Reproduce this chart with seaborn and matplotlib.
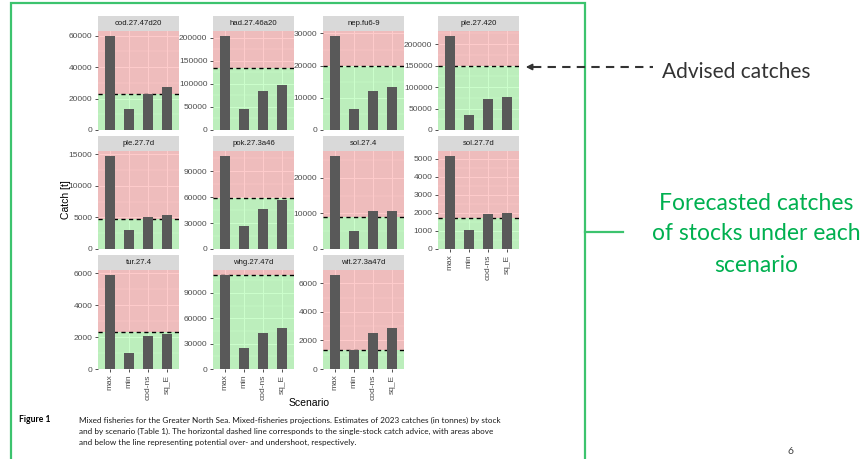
import numpy as np
import pandas as pd
import seaborn as sns
import matplotlib.pyplot as plt
from matplotlib.lines import Line2D
from matplotlib.patches import Rectangle
from matplotlib.ticker import MultipleLocator

# data
stocks = ['cod.27.47d20', 'had.27.46a20', 'nep.fu6-9', 'ple.27.420',
          'ple.27.7d', 'pok.27.3a46', 'sol.27.4', 'sol.27.7d',
          'tur.27.4', 'whg.27.47d', 'wit.27.3a47d']
scenarios = ['max', 'min', 'cod-ns', 'sq_E']

catch_max = [60000, 204500, 29300, 219500, 14800, 108000, 26200, 5180, 5900, 111400, 6600]
catch_min = [13100, 46500, 6400, 35000, 2950, 26700, 5000, 1060, 1020, 24300, 1330]
catch_codns = [22900, 84000, 12200, 72000, 5020, 46500, 10600, 1940, 2060, 42400, 2510]
catch_sqE = [27100, 98500, 13300, 76000, 5330, 56400, 10750, 2000, 2220, 49000, 2840]
advice = [22800, 135000, 19800, 150000, 4700, 58700, 9100, 1740, 2300, 110600, 1330]
tick_step = [20000, 50000, 10000, 50000, 5000, 30000, 10000, 1000, 2000, 30000, 2000]

df = pd.DataFrame({
    'stock': np.repeat(stocks, 4),
    'scenario': scenarios * len(stocks),
    'catch': np.ravel(np.column_stack([catch_max, catch_min, catch_codns, catch_sqE])),
})

plt.rcParams['font.family'] = ['Liberation Sans', 'DejaVu Sans']

W, H = 864, 459
fig = plt.figure(figsize=(W / 100, H / 100), dpi=100)


def frect(x0, y0, w, h):
    return [x0 / W, 1 - (y0 + h) / H, w / W, h / H]


col_x = [98, 213, 323, 438]
row_top = [31, 151, 270]
row_h = [99, 98, 99]
pw, sh = 81, 15
bottom_panels = [7, 8, 9, 10]

for i, stock in enumerate(stocks):
    r, c = divmod(i, 4)
    ax = fig.add_axes(frect(col_x[c], row_top[r], pw, row_h[r]))
    sub = df[df['stock'] == stock]
    top = max(sub['catch'].max(), advice[i]) * 1.05

    ax.set_facecolor('#EBEBEB')
    ax.set_axisbelow(True)
    ax.axhspan(0, advice[i], color='#00FF00', alpha=0.2, lw=0, zorder=1)
    ax.axhspan(advice[i], top, color='#FF0000', alpha=0.2, lw=0, zorder=1)
    ax.axhline(advice[i], color='black', lw=1.0, ls=(0, (3, 2.5)), zorder=2)

    sns.barplot(data=sub, x='scenario', y='catch', order=scenarios, ax=ax,
                color='#595959', saturation=1, width=0.52, errorbar=None, zorder=3)
    for p in ax.patches:
        if p.get_height() and p.get_width() < 1:
            p.set_zorder(3)
            p.set_edgecolor('none')

    ax.set_xlim(-0.6, 3.6)
    ax.set_ylim(0, top)
    ax.yaxis.set_major_locator(MultipleLocator(tick_step[i]))
    ax.yaxis.set_minor_locator(MultipleLocator(tick_step[i] / 2))
    ax.grid(which='major', color='white', lw=0.7)
    ax.grid(which='minor', axis='y', color='white', lw=0.35)
    for s in ax.spines.values():
        s.set_visible(False)
    ax.set_xlabel('')
    ax.set_ylabel('')
    ax.tick_params(axis='y', which='major', length=2.5, width=0.6, color='#333333',
                   labelsize=6, labelcolor='#4D4D4D', pad=1.5)
    ax.tick_params(axis='y', which='minor', length=0)
    if i in bottom_panels:
        ax.set_xticks(range(4))
        ax.set_xticklabels(scenarios, rotation=90)
        ax.tick_params(axis='x', length=2.5, width=0.6, color='#333333',
                       labelsize=6, labelcolor='#4D4D4D', pad=1.5)
    else:
        ax.tick_params(axis='x', length=0, labelbottom=False)

    sax = fig.add_axes(frect(col_x[c], row_top[r] - sh, pw, sh))
    sax.set_facecolor('#D9D9D9')
    sax.set_xticks([])
    sax.set_yticks([])
    for s in sax.spines.values():
        s.set_visible(False)
    sax.text(0.5, 0.5, stock, ha='center', va='center', fontsize=5.6, color='#1A1A1A',
             transform=sax.transAxes)


def ftext(x, y, s, **kw):
    fig.text(x / W, 1 - y / H, s, **kw)


ftext(66, 200, 'Catch [t]', rotation=90, ha='center', va='center', fontsize=7.5)
ftext(309, 403, 'Scenario', ha='center', va='center', fontsize=7.5)

# caption
cap_font = ['Lato', 'DejaVu Sans']
ftext(19, 420, 'Figure 1', fontsize=6.2, fontweight='bold', va='center', family=cap_font)
caption = ['Mixed fisheries for the Greater North Sea. Mixed-fisheries projections. Estimates of 2023 catches (in tonnes) by stock',
           'and by scenario (Table 1). The horizontal dashed line corresponds to the single-stock catch advice, with areas above',
           'and below the line representing potential over- and undershoot, respectively.']
for k, line in enumerate(caption):
    ftext(79, 420 + 11 * k, line, fontsize=5.85, va='center', family=cap_font, color='#1A1A1A')

# green frame
green = '#00B050'
fig.add_artist(Rectangle((11 / W, -0.1), (585 - 11) / W, 1 - 3 / H + 0.1,
                         transform=fig.transFigure, fill=False, edgecolor='#3CC36E',
                         lw=1.6, clip_on=False))
fig.add_artist(Line2D([585 / W, 623 / W], [1 - 232 / H] * 2, transform=fig.transFigure,
                      color='#3CC36E', lw=1.6))

# arrow to advice line
fig.add_artist(Line2D([533 / W, 653 / W], [1 - 67 / H] * 2, transform=fig.transFigure,
                      color='#333333', lw=1.5, ls=(0, (4, 3))))
fig.add_artist(plt.Annotation('', xy=(523 / W, 1 - 67 / H), xytext=(536 / W, 1 - 67 / H),
                              xycoords='figure fraction', textcoords='figure fraction',
                              arrowprops=dict(arrowstyle='-|>', color='#333333', lw=1.2,
                                              mutation_scale=9)))

side_font = ['Lato', 'DejaVu Sans']
ftext(662, 72, 'Advised catches', fontsize=15, va='center', ha='left', color='#333333',
      family=side_font)
for k, line in enumerate(['Forecasted catches', 'of stocks under each', 'scenario']):
    ftext(756, 203 + 31 * k, line, fontsize=16.5, va='center', ha='center', color=green,
          family=side_font)

ftext(791, 452, '6', fontsize=7.5, va='center', ha='center', color='#404040', family=side_font)

fig.savefig('out.png', dpi=100)
